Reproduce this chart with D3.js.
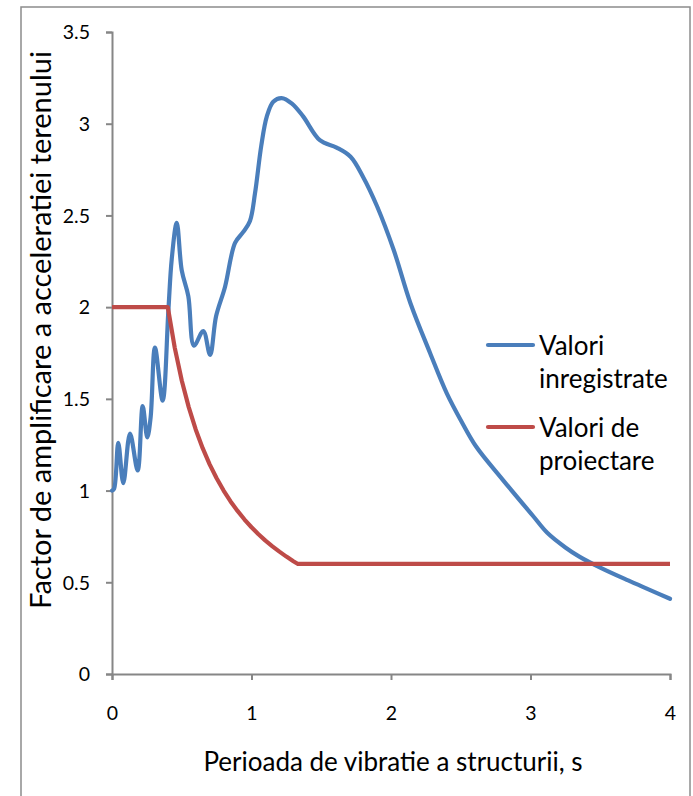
<!DOCTYPE html>
<html>
<head>
<meta charset="utf-8">
<script src="https://cdn.jsdelivr.net/npm/d3@7"></script>
<style>
  body { margin: 0; background: #fff; }
  text { font-family: Lato, "Open Sans", sans-serif; fill: #000; }
</style>
</head>
<body>
<svg id="chart" width="693" height="796"></svg>
<script>
// recorded spectrum (blue)
const recT = [0, 0.015, 0.045, 0.081, 0.129, 0.184, 0.22, 0.253, 0.277, 0.308, 0.363, 0.404, 0.428, 0.464, 0.5, 0.547, 0.588, 0.654, 0.703, 0.746, 0.81, 0.882, 0.941, 0.989, 1.025, 1.07, 1.11, 1.156, 1.216, 1.29, 1.37, 1.49, 1.61, 1.71, 1.8, 1.9, 2.02, 2.14, 2.28, 2.4, 2.51, 2.61, 2.8, 3.02, 3.12, 3.25, 3.35, 3.5, 3.7, 3.85, 4.0];
const recVal = [1.0, 1.01, 1.26, 1.04, 1.31, 1.11, 1.46, 1.29, 1.40, 1.78, 1.49, 1.98, 2.26, 2.46, 2.20, 2.06, 1.79, 1.87, 1.74, 1.95, 2.11, 2.35, 2.41, 2.47, 2.62, 2.88, 3.04, 3.12, 3.14, 3.11, 3.04, 2.91, 2.87, 2.82, 2.71, 2.55, 2.31, 2.02, 1.75, 1.53, 1.37, 1.24, 1.06, 0.86, 0.77, 0.69, 0.64, 0.58, 0.51, 0.46, 0.41];

// design spectrum (red)
const desT = [0, 0.4, 0.45, 0.5, 0.55, 0.6, 0.65, 0.7, 0.75, 0.8, 0.85, 0.9, 0.95, 1.0, 1.05, 1.1, 1.15, 1.2, 1.25, 1.3, 1.333, 4.0];
const desVal = [2.0, 2.0, 1.778, 1.6, 1.455, 1.333, 1.231, 1.143, 1.067, 1.0, 0.941, 0.889, 0.842, 0.8, 0.762, 0.727, 0.696, 0.667, 0.64, 0.615, 0.6, 0.6];

const xTicks = [0, 1, 2, 3, 4];
const yTicks = [0, 0.5, 1, 1.5, 2, 2.5, 3, 3.5];
const seriesNames = [["Valori", "inregistrate"], ["Valori de", "proiectare"]];
const colors = ["#4a7ebb", "#be4b48"];

const svg = d3.select("#chart");

// outer chart frame
svg.append("rect")
    .attr("x", 21).attr("y", 7)
    .attr("width", 669).attr("height", 820)
    .attr("fill", "none").attr("stroke", "#8c8c8c").attr("stroke-width", 1.5);

const x = d3.scaleLinear().domain([0, 4]).range([112, 670]);
const y = d3.scaleLinear().domain([0, 3.5]).range([674, 32]);

let xAxis = svg.append("g").attr("transform", "translate(0,674)")
    .call(d3.axisBottom(x).tickValues(xTicks).tickSize(6).tickPadding(26).tickFormat(d3.format("d")));
let yAxis = svg.append("g").attr("transform", "translate(112,0)")
    .call(d3.axisLeft(y).tickValues(yTicks).tickSize(6).tickPadding(16).tickFormat(d => d));

[xAxis, yAxis].forEach(g => {
    g.select(".domain").attr("stroke", "#868686").attr("stroke-width", 2);
    g.selectAll(".tick line").attr("stroke", "#868686").attr("stroke-width", 2);
    g.selectAll(".tick text").style("font-size", "19.5px").attr("fill", "#000");
});
yAxis.selectAll(".tick text").attr("dy", "0.35em");

const line = d3.line()
    .x(d => x(d[0]))
    .y(d => y(d[1]));

svg.append("path")
    .datum(recT.map((t, i) => [t, recVal[i]]))
    .attr("fill", "none").attr("stroke", colors[0]).attr("stroke-width", 4.2)
    .attr("stroke-linejoin", "round").attr("stroke-linecap", "round")
    .attr("d", line.curve(d3.curveCatmullRom.alpha(0.5)));

svg.append("path")
    .datum(desT.map((t, i) => [t, desVal[i]]))
    .attr("fill", "none").attr("stroke", colors[1]).attr("stroke-width", 4.2)
    .attr("stroke-linejoin", "round")
    .attr("d", line.curve(d3.curveLinear));

// axis titles
svg.append("text")
    .attr("x", 393).attr("y", 771)
    .attr("text-anchor", "middle")
    .style("font-size", "26px")
    .text("Perioada de vibratie a structurii, s");

svg.append("text")
    .attr("transform", "translate(51,330) rotate(-90)")
    .attr("text-anchor", "middle")
    .style("font-size", "29px")
    .text("Factor de amplificare a acceleratiei terenului");

// legend
let leg = svg.append("g");
seriesNames.forEach((names, i) => {
    let ly = 345 + i * 82;
    leg.append("line")
        .attr("x1", 488).attr("x2", 533)
        .attr("y1", ly).attr("y2", ly)
        .attr("stroke", colors[i]).attr("stroke-width", 4.2).attr("stroke-linecap", "round");
    names.forEach((n, j) => {
        leg.append("text")
            .attr("x", 539).attr("y", ly + 10 + j * 33)
            .style("font-size", "26px")
            .text(n);
    });
});
</script>
</body>
</html>
